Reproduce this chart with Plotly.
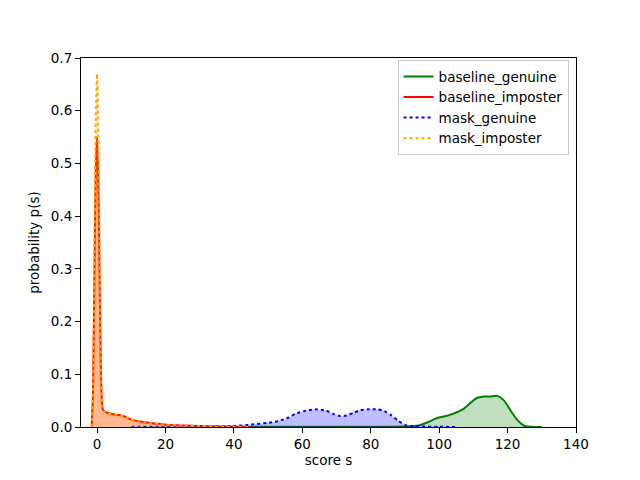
import plotly.graph_objects as go

# baseline_genuine
bg_x = [45, 60, 80, 90, 94, 97, 99, 102, 104, 107, 109, 111, 113, 115, 117, 119, 121, 123, 125, 127, 130]
bg_y = [0.0003, 0.0005, 0.0005, 0.001, 0.003, 0.01, 0.016, 0.021, 0.025, 0.034, 0.045, 0.055, 0.058, 0.058, 0.059, 0.05, 0.03, 0.012, 0.002, 0.0005, 0.0]

# baseline_imposter
bi_x = [-1.6, -1.5, -1.2, -0.8, -0.4, 0, 0.4, 0.8, 1.2, 1.6, 2, 3, 4, 5, 6, 7, 8, 9, 10, 12, 14, 16, 18, 20, 25, 30, 35, 40, 45]
bi_y = [0.0, 0.015, 0.06, 0.27, 0.48, 0.55, 0.45, 0.25, 0.08, 0.035, 0.03, 0.027, 0.025, 0.024, 0.023, 0.022, 0.02, 0.017, 0.014, 0.011, 0.009, 0.007, 0.006, 0.0045, 0.003, 0.002, 0.001, 0.0005, 0.0]

# mask_genuine
mg_x = [10, 20, 30, 40, 45, 50, 53, 56, 58, 61, 64, 67, 69, 71, 73, 75, 77, 79, 82, 84, 86, 88, 90, 92, 95, 100, 105]
mg_y = [0.0005, 0.0005, 0.001, 0.002, 0.0045, 0.008, 0.011, 0.018, 0.025, 0.031, 0.0335, 0.031, 0.025, 0.021, 0.022, 0.027, 0.032, 0.0335, 0.0335, 0.03, 0.022, 0.012, 0.004, 0.002, 0.001, 0.0005, 0.0]

# mask_imposter
mi_x = [-1.6, -1.5, -1.2, -0.8, -0.4, 0, 0.4, 0.8, 1.2, 1.6, 2, 3, 4, 5, 6, 7, 8, 9, 10, 12, 14, 16, 18, 20, 25, 30, 35, 40, 45]
mi_y = [0.0, 0.015, 0.07, 0.32, 0.58, 0.67, 0.55, 0.3, 0.09, 0.035, 0.03, 0.027, 0.025, 0.024, 0.023, 0.022, 0.02, 0.017, 0.014, 0.011, 0.009, 0.007, 0.006, 0.0045, 0.003, 0.002, 0.001, 0.0005, 0.0]

x_ticks = [0, 20, 40, 60, 80, 100, 120, 140]
y_ticks = [0.0, 0.1, 0.2, 0.3, 0.4, 0.5, 0.6, 0.7]

series = [
    ("baseline_genuine", bg_x, bg_y, "green", "rgba(0,128,0,0.25)", "solid"),
    ("baseline_imposter", bi_x, bi_y, "red", "rgba(255,0,0,0.25)", "solid"),
    ("mask_genuine", mg_x, mg_y, "blue", "rgba(0,0,255,0.25)", "dot"),
    ("mask_imposter", mi_x, mi_y, "orange", "rgba(255,165,0,0.25)", "dot"),
]

fig = go.Figure()
for name, xs, ys, col, fcol, dash in series:
    # filled area (no legend)
    fig.add_trace(go.Scatter(
        x=xs, y=ys, mode="lines", showlegend=False, hoverinfo="skip",
        line=dict(color=col, width=0, shape="spline", smoothing=0.6),
        fill="tozeroy", fillcolor=fcol,
    ))
    # line on top (legend entry)
    fig.add_trace(go.Scatter(
        x=xs, y=ys, mode="lines", name=name,
        line=dict(color=col, width=2, dash=dash, shape="spline", smoothing=0.6),
    ))

font = dict(family="DejaVu Sans", size=13.5, color="black")
fig.update_layout(
    width=640, height=480,
    margin=dict(l=73, r=72, t=50, b=61),
    paper_bgcolor="white", plot_bgcolor="white",
    font=font,
    showlegend=True,
    legend=dict(x=0.985, y=0.994, xanchor="right", yanchor="top",
                bordercolor="#cccccc", borderwidth=1, bgcolor="rgba(255,255,255,0.8)",
                font=font, tracegroupgap=0),
)
fig.update_xaxes(
    range=[-4.7, 140], tickvals=x_ticks, ticktext=[str(v) for v in x_ticks],
    showgrid=False, zeroline=False, showline=True, linecolor="black", linewidth=1,
    mirror=True, ticks="outside", ticklen=5, tickcolor="black",
    title=dict(text="score s", font=font, standoff=4),
)
fig.update_yaxes(
    range=[0, 0.7], tickvals=y_ticks, ticktext=[f"{v:.1f}" for v in y_ticks],
    showgrid=False, zeroline=False, showline=True, linecolor="black", linewidth=1,
    mirror=True, ticks="outside", ticklen=5, tickcolor="black",
    title=dict(text="probability p(s)", font=font, standoff=8),
)
fig.write_html("out.html")
